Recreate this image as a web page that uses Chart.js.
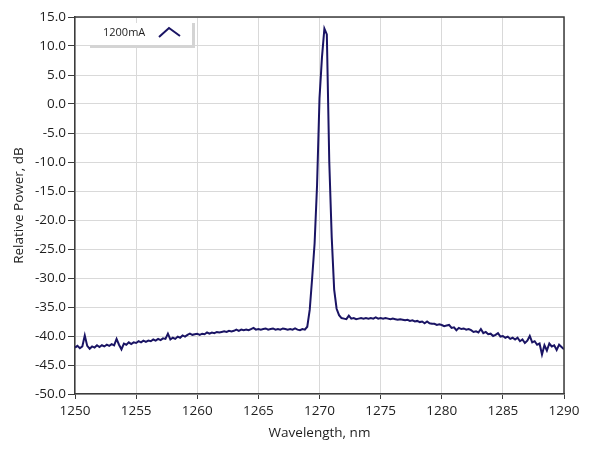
<!DOCTYPE html>
<html>
<head>
<meta charset="utf-8">
<script src="https://cdn.jsdelivr.net/npm/chart.js@4/dist/chart.umd.min.js"></script>
<style>
  html, body { margin: 0; padding: 0; background: #fff; }
  #wrap { width: 589px; height: 456px; position: relative; }
</style>
</head>
<body>
<div id="wrap"><canvas id="spectrum"></canvas></div>
<script>
// Sample grid: 1250 .. 1290 nm, 0.2 nm per point
const WAVE_START = 1250;
const WAVE_STEP  = 0.2;

const seriesLabel = '1200mA';

// Relative power, dB (one row = 2 nm)
const powerDb = [
  -42.0, -41.7, -42.1, -41.8, -39.9, -41.7, -42.2, -41.8, -42.0, -41.6,
  -41.9, -41.6, -41.8, -41.5, -41.7, -41.4, -41.6, -40.5, -41.5, -42.3,
  -41.3, -41.5, -41.1, -41.4, -41.1, -41.2, -40.9, -41.1, -40.8, -41.0,
  -40.8, -40.9, -40.6, -40.8, -40.5, -40.7, -40.4, -40.5, -39.6, -40.6,
  -40.3, -40.5, -40.1, -40.3, -39.9, -40.1, -39.8, -39.6, -39.8, -39.7,
  -39.6, -39.8, -39.6, -39.7, -39.4, -39.6, -39.4, -39.5, -39.3, -39.4,
  -39.3, -39.2, -39.3, -39.1, -39.2, -39.1, -38.9, -39.1, -38.9, -39.0,
  -38.9, -39.0, -38.8, -38.6, -38.9, -38.8, -38.9, -38.8, -38.7, -38.9,
  -38.8, -38.7, -38.9, -38.8, -38.9, -38.7, -38.8, -38.9, -38.8, -38.9,
  -38.7, -38.9, -39.0, -38.8, -38.9, -38.4, -35.5, -30.0, -24.0, -14.0,
    1.0,   8.0,  13.0,  12.0, -10.0, -23.0, -32.0, -35.3, -36.4, -36.9,
  -37.0, -37.1, -36.5, -37.0, -36.9, -37.1, -37.0, -36.9, -37.0, -36.9,
  -37.0, -36.9, -37.0, -36.8, -37.0, -36.9, -37.0, -36.9, -37.0, -37.1,
  -37.0, -37.1, -37.2, -37.1, -37.2, -37.3, -37.2, -37.4, -37.3, -37.5,
  -37.4, -37.6, -37.5, -37.8, -37.5, -37.8, -37.9, -37.9, -38.1, -38.0,
  -38.1, -38.3, -38.2, -38.1, -38.6, -38.5, -39.0, -38.6, -38.8, -38.7,
  -38.9, -38.8, -39.0, -39.3, -39.2, -39.4, -38.8, -39.5, -39.3, -39.7,
  -39.6, -40.0, -39.8, -39.5, -40.1, -40.0, -40.3, -40.1, -40.5, -40.3,
  -40.6, -40.3, -40.9, -40.6, -41.2, -40.8, -40.0, -41.1, -40.9, -41.5,
  -41.3, -43.2, -41.6, -42.5, -41.3, -41.8, -41.6, -42.4, -41.5, -41.9,
  -42.3
];

const xRange = [1250, 1290];
const yRange = [-50, 15];

const AXIS_COLOR = '#3c3c3c';
const GRID_COLOR = '#d9d9d9';
const LINE_COLOR = '#1a1464';
const FONT       = '"Open Sans", "Noto Sans", sans-serif';

const points = powerDb.map((v, i) => ({ x: +(WAVE_START + i * WAVE_STEP).toFixed(1), y: v }));

// ─── Frame + legend box ───────────────────────────────

const framePlugin = {
  id: 'frame',
  afterDatasetsDraw(chart) {
    const { ctx, chartArea: a } = chart;
    ctx.save();
    ctx.strokeStyle = AXIS_COLOR;
    ctx.lineWidth = 1.5;
    ctx.beginPath();
    ctx.moveTo(a.left, a.top);
    ctx.lineTo(a.right, a.top);
    ctx.lineTo(a.right, a.bottom);
    ctx.stroke();

    // legend box with grey shadow
    const bx = a.left + 15, by = a.top + 6, bw = 104, bh = 24;
    ctx.fillStyle = '#fff';
    ctx.fillRect(bx, by, bw, bh);
    ctx.fillStyle = '#d4d4d4';
    ctx.fillRect(bx + bw - 2, by, 3, bh + 1);
    ctx.fillRect(bx, by + bh - 2, bw + 1, 3);

    ctx.fillStyle = '#1e1e1e';
    ctx.font = '11px ' + FONT;
    ctx.textBaseline = 'middle';
    ctx.fillText(seriesLabel, bx + 13, by + 10);

    ctx.strokeStyle = LINE_COLOR;
    ctx.lineWidth = 2;
    ctx.beginPath();
    ctx.moveTo(bx + 69, by + 14);
    ctx.lineTo(bx + 79, by + 5);
    ctx.lineTo(bx + 90, by + 13);
    ctx.stroke();
    ctx.restore();
  }
};

// ─── Chart ────────────────────────────────────────────

new Chart(document.getElementById('spectrum'), {
  type: 'line',
  data: {
    datasets: [{
      label: seriesLabel,
      data: points,
      borderColor: LINE_COLOR,
      borderWidth: 2,
      pointRadius: 0,
      tension: 0,
      fill: false,
    }],
  },
  options: {
    responsive: true,
    maintainAspectRatio: false,
    animation: false,
    layout: { padding: { top: 17, right: 25, left: 0, bottom: 0 } },
    plugins: {
      legend: { display: false },
      tooltip: { enabled: false },
    },
    scales: {
      x: {
        type: 'linear',
        min: xRange[0],
        max: xRange[1],
        afterFit: s => { s.height = 62; },
        ticks: {
          stepSize: 5,
          color: '#1e1e1e',
          font: { family: FONT, size: 13.5 },
          padding: 4,
          maxRotation: 0,
          callback: v => String(v),
        },
        grid: { color: GRID_COLOR, tickColor: AXIS_COLOR, tickLength: 5 },
        border: { color: AXIS_COLOR, width: 1.5 },
        title: {
          display: true,
          text: 'Wavelength, nm',
          color: '#1e1e1e',
          font: { family: FONT, size: 13.5 },
          padding: { top: 0, bottom: 15 },
        },
      },
      y: {
        min: yRange[0],
        max: yRange[1],
        afterFit: s => { s.width = 75; },
        ticks: {
          stepSize: 5,
          color: '#1e1e1e',
          font: { family: FONT, size: 13.5 },
          padding: 2,
          callback: v => v.toFixed(1),
        },
        grid: { color: GRID_COLOR, tickColor: AXIS_COLOR, tickLength: 7 },
        border: { color: AXIS_COLOR, width: 1.5 },
        title: {
          display: true,
          text: 'Relative Power, dB',
          color: '#1e1e1e',
          font: { family: FONT, size: 13.5 },
          padding: { top: 11, bottom: 0 },
        },
      },
    },
  },
  plugins: [framePlugin],
});
</script>
</body>
</html>
